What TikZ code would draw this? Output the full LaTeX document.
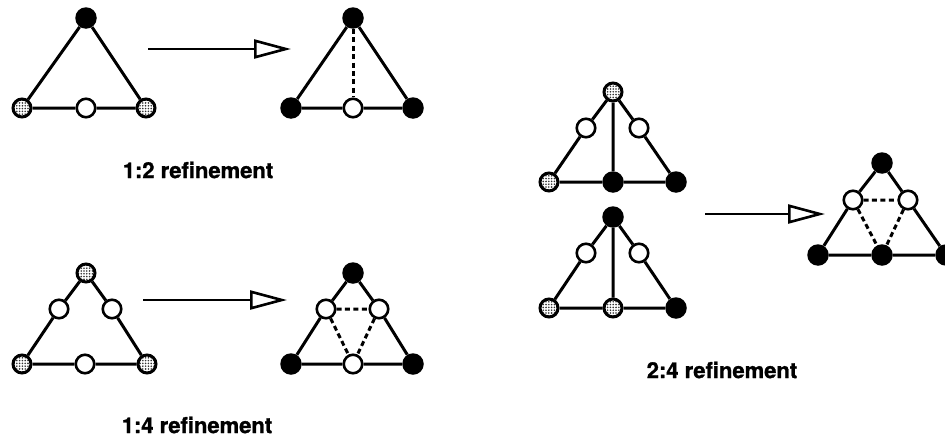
\documentclass[tikz,border=0pt]{standalone}
\usepackage{fontspec}
\setmainfont{TeX Gyre Heros}[BoldFeatures={FakeBold=1.2}]
\usetikzlibrary{arrows.meta,patterns.meta}

\tikzset{
  edge/.style={line width=3pt},
  split/.style={line width=3pt, dash pattern=on 5pt off 3.4pt},
  vfull/.style={circle, fill=black, minimum size=21.5pt, inner sep=0pt},
  vnew/.style={circle, draw=black, line width=2.6pt, fill=white, minimum size=18.5pt, inner sep=0pt},
  vmark/.style={circle, draw=black, line width=3pt, minimum size=18pt, inner sep=0pt,
    preaction={fill=white}, pattern={Dots[distance=2.8pt, radius=0.9pt]}, pattern color=black!80},
  refine/.style={line width=2.8pt, -{Triangle[open, length=37pt, width=19pt, line width=2.6pt]}},
  caption/.style={font=\fontsize{22}{26}\selectfont\bfseries, inner sep=0pt}
}

\begin{document}
\begin{tikzpicture}[x=1pt, y=-1pt]
\useasboundingbox (0,0) rectangle (945,439);

% ---- 1:2 refinement, before
\node[vfull] (t1a) at (86,18) {};
\node[vmark] (t1b) at (22,108) {};
\node[vmark] (t1c) at (146,108) {};
\node[vnew]  (t1m) at (86,108) {};

% ---- 1:2 refinement, after
\node[vfull] (t2a) at (353,18) {};
\node[vfull] (t2b) at (291,108) {};
\node[vfull] (t2c) at (413,108) {};
\node[vnew]  (t2m) at (353,108) {};

% ---- 1:4 refinement, before
\node[vmark] (t3a) at (86,273) {};
\node[vnew]  (t3l) at (59,309) {};
\node[vnew]  (t3r) at (112,309) {};
\node[vmark] (t3b) at (22,364) {};
\node[vmark] (t3c) at (147,364) {};
\node[vnew]  (t3m) at (85,364) {};

% ---- 1:4 refinement, after
\node[vfull] (t4a) at (353,273) {};
\node[vnew]  (t4l) at (326,309) {};
\node[vnew]  (t4r) at (379,309) {};
\node[vfull] (t4b) at (291,364) {};
\node[vfull] (t4c) at (413,364) {};
\node[vnew]  (t4m) at (353,364) {};

% ---- 2:4 refinement, upper element
\node[vmark] (ua) at (613,92) {};
\node[vnew]  (ul) at (586,128) {};
\node[vnew]  (ur) at (639,128) {};
\node[vmark] (ub) at (549,182) {};
\node[vfull] (um) at (613,182) {};
\node[vfull] (uc) at (676,182) {};

% ---- 2:4 refinement, lower element
\node[vfull] (va) at (613,217) {};
\node[vnew]  (vl) at (586,253) {};
\node[vnew]  (vr) at (639,253) {};
\node[vmark] (vb) at (549,308) {};
\node[vmark] (vm) at (613,308) {};
\node[vfull] (vc) at (676,308) {};

% ---- 2:4 refinement, result
\node[vfull] (wa) at (882,163) {};
\node[vnew]  (wl) at (853,200) {};
\node[vnew]  (wr) at (908,200) {};
\node[vfull] (wb) at (818,255) {};
\node[vfull] (wm) at (882,255) {};
\node[vfull] (wc) at (946,255) {};

% edges (drawn between node borders)
\draw[edge] (t1a) -- (t1b) (t1a) -- (t1c) (t1b) -- (t1m) (t1m) -- (t1c);
\draw[edge] (t2a) -- (t2b) (t2a) -- (t2c) (t2b) -- (t2m) (t2m) -- (t2c);
\draw[split] (t2a) -- (t2m);

\draw[edge] (t3a) -- (t3l) (t3l) -- (t3b) (t3a) -- (t3r) (t3r) -- (t3c)
            (t3b) -- (t3m) (t3m) -- (t3c);
\draw[edge] (t4a) -- (t4l) (t4l) -- (t4b) (t4a) -- (t4r) (t4r) -- (t4c)
            (t4b) -- (t4m) (t4m) -- (t4c);
\draw[split] (t4l) -- (t4r) (t4l) -- (t4m) (t4r) -- (t4m);

\draw[edge] (ua) -- (ul) (ul) -- (ub) (ua) -- (ur) (ur) -- (uc)
            (ub) -- (um) (um) -- (uc) (ua) -- (um);
\draw[edge] (va) -- (vl) (vl) -- (vb) (va) -- (vr) (vr) -- (vc)
            (vb) -- (vm) (vm) -- (vc) (va) -- (vm);

\draw[edge] (wa) -- (wl) (wl) -- (wb) (wa) -- (wr) (wr) -- (wc)
            (wb) -- (wm) (wm) -- (wc);
\draw[split] (wl) -- (wr) (wl) -- (wm) (wr) -- (wm);

% refinement arrows
\coordinate (r1s) at (148,49);  \coordinate (r1e) at (291,49);
\coordinate (r2s) at (143,300); \coordinate (r2e) at (287,300);
\coordinate (r3s) at (705,214); \coordinate (r3e) at (825,214);
\draw[refine] (r1s) -- (r1e);
\draw[refine] (r2s) -- (r2e);
\draw[refine] (r3s) -- (r3e);

% captions
\node[caption] (c1) at (198,170) {1:2 refinement};
\node[caption] (c2) at (197,425) {1:4 refinement};
\node[caption] (c3) at (722,370) {2:4 refinement};
\end{tikzpicture}
\end{document}
